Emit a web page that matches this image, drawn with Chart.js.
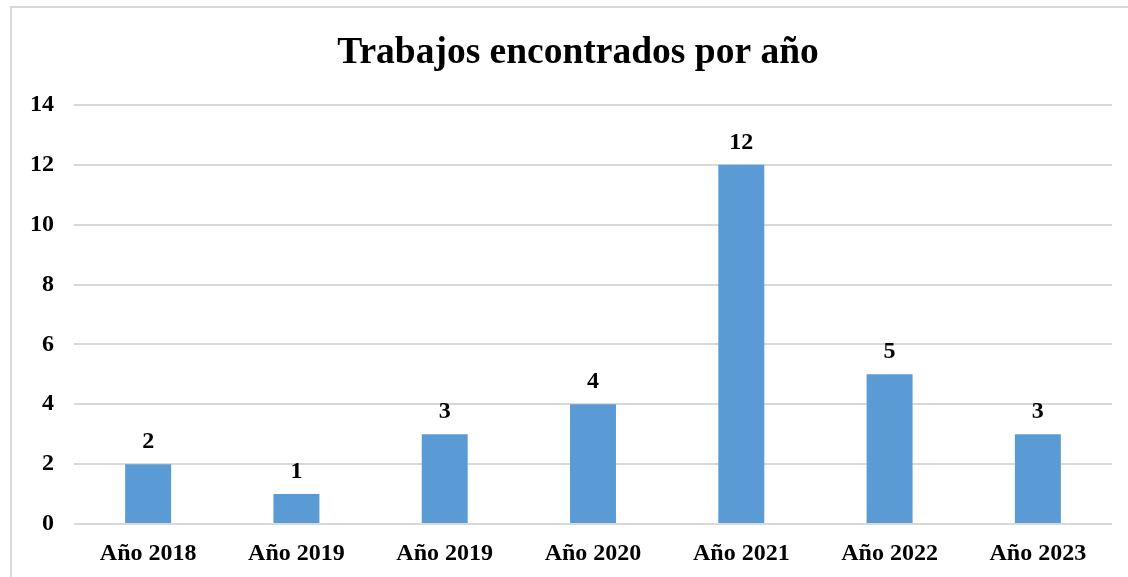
<!DOCTYPE html>
<html>
<head>
<meta charset="utf-8">
<script src="https://cdn.jsdelivr.net/npm/chart.js@4.4.0/dist/chart.umd.min.js"></script>
<style>
  html, body { margin: 0; padding: 0; background: #fff; }
  #wrap { width: 1128px; height: 577px; position: relative; }
</style>
</head>
<body>
<div id="wrap"><canvas id="chart"></canvas></div>
<script>
const categories = ['Año 2018', 'Año 2019', 'Año 2019', 'Año 2020', 'Año 2021', 'Año 2022', 'Año 2023']
const values = [2, 1, 3, 4, 12, 5, 3]
const titleText = 'Trabajos encontrados por año'

const serif = '"Liberation Serif", "Times New Roman", serif'

// light frame around the chart, cut off at the right and bottom like the original
const framePlugin = {
  id: 'frame',
  afterLayout (chart) {
    // the original title sits a bit right of the canvas centre
    if (chart.titleBlock) chart.titleBlock.left += 34
  },
  beforeDraw (chart) {
    const ctx = chart.ctx
    ctx.save()
    ctx.fillStyle = '#fff'
    ctx.fillRect(0, 0, chart.width, chart.height)
    ctx.strokeStyle = '#d9d9d9'
    ctx.lineWidth = 2
    ctx.strokeRect(11, 7, chart.width + 50, chart.height + 50)
    ctx.restore()
  }
}

// value labels above each bar
const labelPlugin = {
  id: 'valueLabels',
  afterDatasetsDraw (chart) {
    const ctx = chart.ctx
    const meta = chart.getDatasetMeta(0)
    ctx.save()
    ctx.font = 'bold 24px ' + serif
    ctx.fillStyle = '#000'
    ctx.textAlign = 'center'
    ctx.textBaseline = 'alphabetic'
    meta.data.forEach((bar, i) => {
      ctx.fillText(String(values[i]), bar.x, bar.y - 16)
    })
    ctx.restore()
  }
}

new Chart(document.getElementById('chart'), {
  type: 'bar',
  data: {
    labels: categories,
    datasets: [{
      data: values,
      backgroundColor: '#5b9bd5',
      borderWidth: 0,
      categoryPercentage: 1,
      barPercentage: 0.31
    }]
  },
  options: {
    responsive: true,
    maintainAspectRatio: false,
    animation: false,
    layout: { padding: { left: 10, right: 16, top: 0, bottom: 11 } },
    plugins: {
      legend: { display: false },
      tooltip: { enabled: false },
      title: {
        display: true,
        text: titleText,
        color: '#000',
        font: { family: serif, size: 37.5, weight: 'bold' },
        padding: { top: 31, bottom: 29 }
      }
    },
    scales: {
      x: {
        grid: { display: false },
        border: { display: false },
        afterFit (scale) { scale.height = 42 },
        ticks: {
          color: '#000',
          font: { family: serif, size: 24, weight: 'bold' },
          padding: 7,
          maxRotation: 0,
          autoSkip: false
        }
      },
      y: {
        min: 0,
        max: 14,
        grid: { color: '#d9d9d9', lineWidth: 2, drawTicks: false },
        border: { display: false },
        ticks: {
          stepSize: 2,
          color: '#000',
          font: { family: serif, size: 24, weight: 'bold' },
          padding: 20
        }
      }
    }
  },
  plugins: [framePlugin, labelPlugin]
})
</script>
</body>
</html>
